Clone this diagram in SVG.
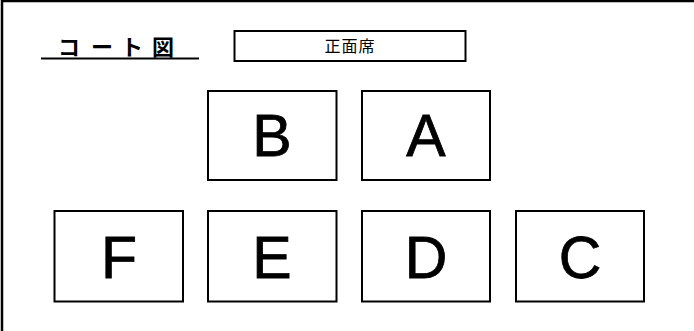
<svg xmlns="http://www.w3.org/2000/svg" width="694" height="331" viewBox="0 0 694 331">
<style>
.box{fill:#fff;stroke:#000;stroke-width:2}
.lbl{font-family:"Liberation Sans",Arial,sans-serif;font-size:59px;text-anchor:middle;fill:#000;stroke:#000;stroke-width:0.8}
.jp{font-family:"Noto Sans CJK JP","Noto Sans CJK SC",sans-serif;fill:#000}
</style>
<rect width="694" height="331" fill="#fff"/>
<g id="frame">
<path d="M2,331 V1 H694" fill="none" stroke="#000" stroke-width="2.5"/>
</g>
<g id="title">
<text class="jp" font-size="22" font-weight="bold" y="55"><tspan x="58">コ</tspan><tspan x="91">ー</tspan><tspan x="121">ト</tspan><tspan x="152">図</tspan></text>
<line x1="41" y1="58.5" x2="199" y2="58.5" stroke="#000" stroke-width="2"/>
</g>
<g id="front">
<rect class="box" x="234.5" y="31" width="231" height="30"/>
<text class="jp" font-size="16" x="350" y="52" text-anchor="middle" letter-spacing="1">正面席</text>
</g>
<g id="B"><rect class="box" x="208" y="91" width="128.5" height="89"/><text class="lbl" x="272" y="156">B</text></g>
<g id="A"><rect class="box" x="362" y="91" width="128" height="89"/><text class="lbl" x="426" y="156">A</text></g>
<g id="F"><rect class="box" x="54.5" y="211" width="128.5" height="90.5"/><text class="lbl" x="119" y="278">F</text></g>
<g id="E"><rect class="box" x="208" y="211" width="128.5" height="90.5"/><text class="lbl" x="272" y="278">E</text></g>
<g id="D"><rect class="box" x="362" y="211" width="128" height="90.5"/><text class="lbl" x="426" y="278">D</text></g>
<g id="C"><rect class="box" x="516" y="211" width="128" height="90.5"/><text class="lbl" x="580" y="278">C</text></g>
<g id="connectors"/>
</svg>
